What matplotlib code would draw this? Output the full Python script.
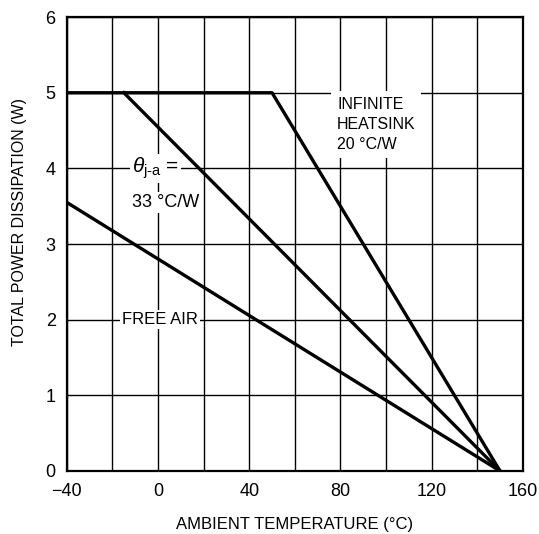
import matplotlib.pyplot as plt

# curve break points
heatsink_x = [-40, 50, 150]
heatsink_y = [5, 5, 0]
theta33_x = [-15, 150]
theta33_y = [5, 0]
free_air_x = [-40, 150]
free_air_y = [3.55, 0]

x_ticks = [-40, 0, 40, 80, 120, 160]
x_labels = ['\u221240', '0', '40', '80', '120', '160']
y_ticks = [0, 1, 2, 3, 4, 5, 6]

family = 'Liberation Sans'
plt.rcParams['font.family'] = [family, 'DejaVu Sans']
plt.rcParams['mathtext.fontset'] = 'custom'
plt.rcParams['mathtext.it'] = family + ':italic'
plt.rcParams['mathtext.rm'] = family

fig = plt.figure(figsize=(5.39, 5.34), dpi=100)
ax = fig.add_axes([0.124, 0.118, 0.846, 0.850])

ax.set_xlim(-40, 160)
ax.set_ylim(0, 6)
ax.set_xticks(x_ticks)
ax.set_xticklabels(x_labels, fontsize=13)
ax.set_xticks(range(-20, 160, 40), minor=True)
ax.set_yticks(y_ticks)
ax.set_yticklabels([str(v) for v in y_ticks], fontsize=13)
ax.tick_params(which='both', length=0)
ax.tick_params(axis='x', pad=9)
ax.tick_params(axis='y', pad=8)
ax.grid(True, which='both', color='black', linewidth=1.0)
for s in ax.spines.values():
    s.set_linewidth(1.6)

ax.plot(heatsink_x, heatsink_y, color='black', linewidth=2.4)
ax.plot(theta33_x, theta33_y, color='black', linewidth=2.4)
ax.plot(free_air_x, free_air_y, color='black', linewidth=2.4)

box = dict(facecolor='white', edgecolor='none', pad=1.5)
ax.text(78.5, 4.95, 'INFINITE\nHEATSINK\n20 \u00b0C/W', fontsize=11.5, va='top', ha='left',
        linespacing=1.45, bbox=dict(facecolor='white', edgecolor='none', pad=4))
ax.text(-1, 4.0, r'$\theta_{\mathrm{j\text{-}a}}$ =', fontsize=15, va='center', ha='center', bbox=box)
ax.text(3.4, 3.55, '33 \u00b0C/W', fontsize=13, va='center', ha='center', bbox=box)
ax.text(0.8, 2.0, 'FREE AIR', fontsize=12, va='center', ha='center', bbox=box)

ax.set_xlabel('AMBIENT TEMPERATURE (\u00b0C)', fontsize=12, labelpad=12)
ax.set_ylabel('TOTAL POWER DISSIPATION (W)', fontsize=11.5)
ax.yaxis.set_label_coords(-0.087, 0.548)

fig.savefig('out.png', dpi=100)
